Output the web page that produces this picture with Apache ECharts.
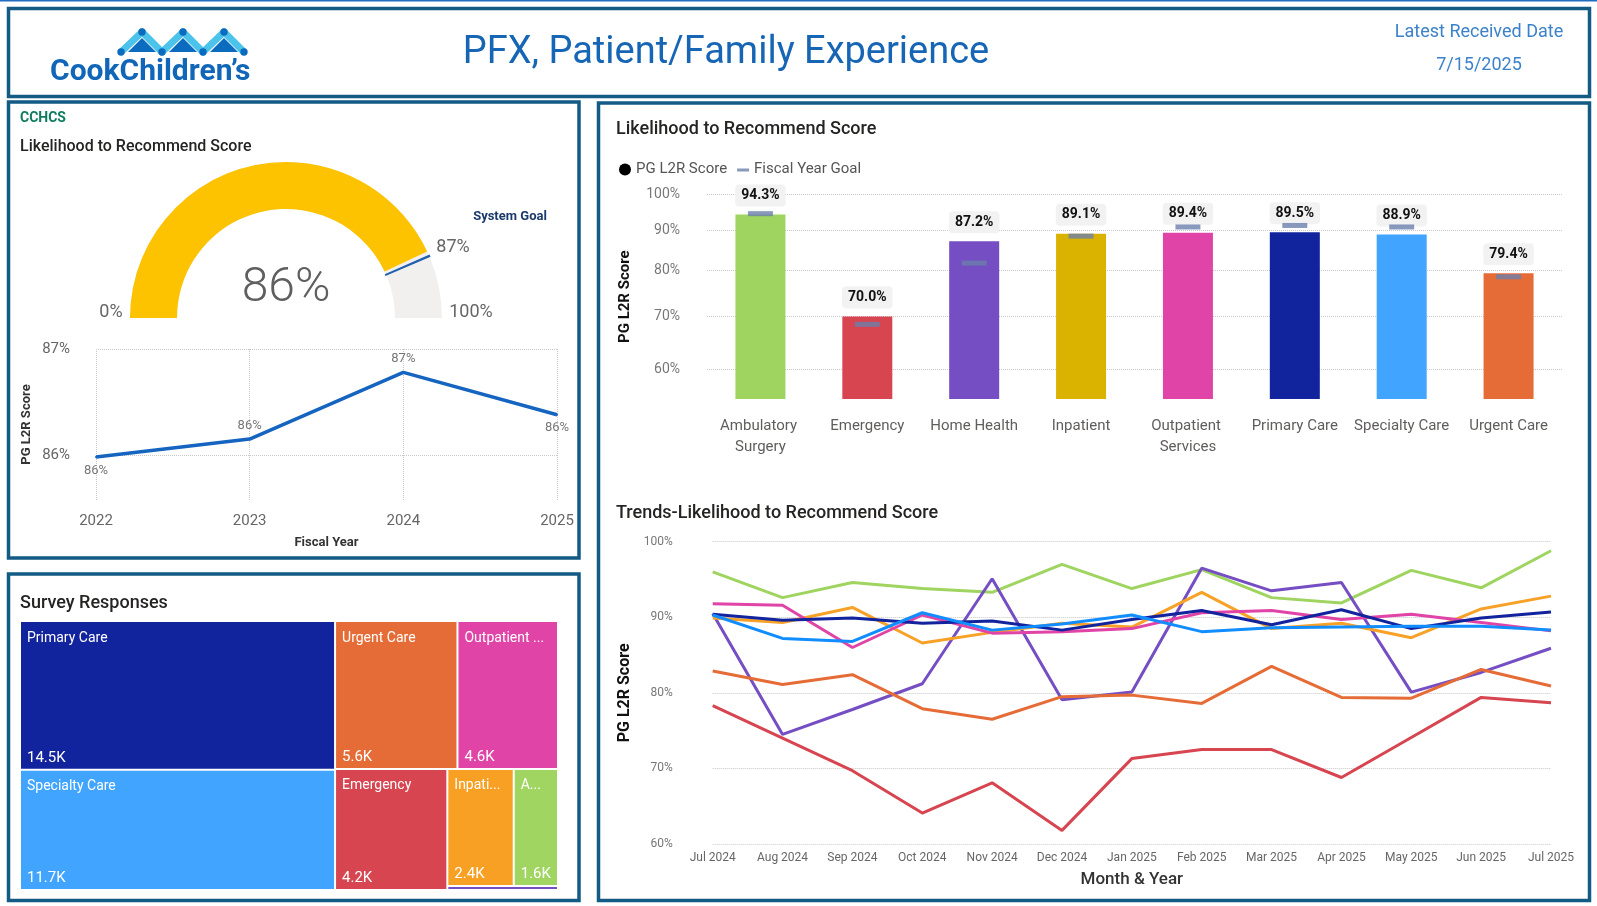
<!DOCTYPE html>
<html>
<head>
<meta charset="utf-8">
<title>PFX, Patient/Family Experience</title>
<script src="https://cdn.jsdelivr.net/npm/echarts@6/dist/echarts.min.js"></script>
<style>
  html, body { margin: 0; padding: 0; background: #fff; }
  #chart { width: 1597px; height: 906px; }
</style>
</head>
<body>
<div id="chart"></div>
<script>
// gauge
const gaugeValue = 86;
const systemGoal = 87;

// fiscal year trend (CCHCS)
const fiscalYears = ['2022', '2023', '2024', '2025'];
const fiscalScores = [85.98, 86.15, 86.78, 86.38];
const fiscalTicks = [86, 87];

// L2R by unit
const units = ['Ambulatory Surgery', 'Emergency', 'Home Health', 'Inpatient', 'Outpatient Services', 'Primary Care', 'Specialty Care', 'Urgent Care'];
const unitScores = [94.3, 70.0, 87.2, 89.1, 89.4, 89.5, 88.9, 79.4];
const unitGoals = [94.5, 68.4, 81.8, 88.5, 90.9, 91.3, 90.9, 78.6];
const unitColors = ['#9ED45F', '#D64550', '#744EC2', '#D9B300', '#E044A7', '#12239E', '#41A4FF', '#E66C37'];
const barTicks = [60, 70, 80, 90, 100];

// monthly trends
const months = ['Jul 2024', 'Aug 2024', 'Sep 2024', 'Oct 2024', 'Nov 2024', 'Dec 2024', 'Jan 2025', 'Feb 2025', 'Mar 2025', 'Apr 2025', 'May 2025', 'Jun 2025', 'Jul 2025'];
const trendAmbulatory = [96.0, 92.6, 94.6, 93.8, 93.3, 97.0, 93.8, 96.3, 92.6, 91.9, 96.2, 93.9, 98.8];
const trendEmergency = [78.3, 74.0, 69.7, 64.1, 68.1, 61.8, 71.3, 72.5, 72.5, 68.8, 74.1, 79.4, 78.7];
const trendHomeHealth = [90.5, 74.5, 77.8, 81.2, 95.1, 79.1, 80.1, 96.5, 93.5, 94.6, 80.1, 82.7, 85.9];
const trendInpatient = [89.9, 89.3, 91.3, 86.6, 88.0, 89.2, 88.7, 93.3, 88.5, 89.2, 87.3, 91.1, 92.8];
const trendOutpatient = [91.8, 91.6, 86.0, 90.3, 87.9, 88.1, 88.5, 90.6, 90.9, 89.7, 90.4, 89.3, 88.2];
const trendPrimary = [90.4, 89.6, 89.9, 89.2, 89.5, 88.3, 89.7, 90.9, 89.0, 91.0, 88.5, 89.9, 90.7];
const trendSpecialty = [90.3, 87.2, 86.8, 90.6, 88.3, 89.1, 90.3, 88.1, 88.6, 88.7, 88.8, 88.8, 88.3];
const trendUrgent = [82.9, 81.1, 82.4, 77.9, 76.5, 79.5, 79.7, 78.6, 83.5, 79.4, 79.3, 83.1, 80.9];
const trendColors = ['#9ED45F', '#D64550', '#744EC2', '#F7A127', '#E044A7', '#12239E', '#118DFF', '#E66C37'];

// survey responses
const surveyUnits = ['Primary Care', 'Specialty Care', 'Urgent Care', 'Outpatient Services', 'Emergency', 'Inpatient', 'Ambulatory Surgery', 'Home Health'];
const surveyCounts = [14500, 11700, 5600, 4600, 4200, 2400, 1600, 140];
const surveyColors = ['#12239E', '#41A5FF', '#E66C37', '#E044A7', '#D64550', '#F7A024', '#9FD560', '#744EC2'];

const FONT = 'Roboto';
const DOT = { type: 'dotted', color: '#C8C8C8', width: 1 };
const NAVY_BORDER = '#135B84';
const CLEAR = 'rgba(0,0,0,0)';

const myChart = echarts.init(document.getElementById('chart'));

const box = (x, y, w, h) => ({
  type: 'rect', silent: true,
  shape: { x: x, y: y, width: w, height: h },
  style: { fill: 'none', stroke: NAVY_BORDER, lineWidth: 3.5 }
});
const txt = (x, y, text, font, fill, align) => ({
  type: 'text', silent: true, x: x, y: y,
  style: { text: text, font: font, fill: fill, align: align || 'left', verticalAlign: 'middle' }
});

// logo pieces
const logo = [];
const peaks = [142, 183, 224];
const logoPts = [[121, 52], [142, 32], [162, 52], [183, 32], [203, 52], [224, 32], [244, 52]];
peaks.forEach(px => {
  logo.push({ type: 'polygon', silent: true, shape: { points: [[px - 14, 52], [px, 38], [px + 14, 52]] }, style: { fill: '#0B6BBE' } });
});
logo.push({ type: 'polyline', silent: true,
  shape: { points: logoPts },
  style: { stroke: '#4CC3EA', lineWidth: 7, fill: 'none', lineJoin: 'round' } });
logoPts.forEach(p => {
  logo.push({ type: 'circle', silent: true, shape: { cx: p[0], cy: p[1], r: 3.7 }, style: { fill: '#0B6BBE' } });
});

const goalIcon = 'path://M0,0 L12,0 L12,0.01 Z M0,5 L12,5 L12,8 L0,8 Z M0,12 L12,12 L12,12.01 Z';

const trendSeries = [trendAmbulatory, trendEmergency, trendHomeHealth, trendInpatient, trendOutpatient, trendPrimary, trendSpecialty, trendUrgent]
  .map((vals, i) => ({
    name: units[i], type: 'line', xAxisIndex: 2, yAxisIndex: 2,
    data: vals, symbol: 'none', smooth: false,
    lineStyle: { width: 3, color: trendColors[i] },
    itemStyle: { color: trendColors[i] }
  }));

const treeBase = {
  type: 'treemap', left: 19, top: 620, width: 540, height: 271,
  roam: false, nodeClick: false, breadcrumb: { show: false },
  animation: false
};

const option = {
  animation: false,
  textStyle: { fontFamily: FONT },
  graphic: [
    { type: 'line', silent: true, shape: { x1: 0, y1: 0.75, x2: 1597, y2: 0.75 }, style: { stroke: '#1F6CC0', lineWidth: 1.5 } },
    box(8.5, 8.5, 1581, 88),
    box(8.5, 102, 570.5, 456),
    box(8.5, 574, 570.5, 326.5),
    box(598.5, 103, 991, 797.5),
    ...logo,
    txt(50, 72, 'CookChildren’s', 'bold 30px ' + FONT, '#1166B8'),
    txt(726, 53, 'PFX, Patient/Family Experience', '38px ' + FONT, '#1766B5', 'center'),
    txt(1479, 32, 'Latest Received Date', '18px ' + FONT, '#3B82C9', 'center'),
    txt(1479, 65, '7/15/2025', '18px ' + FONT, '#3B82C9', 'center'),
    txt(20, 118, 'CCHCS', 'bold 14px ' + FONT, '#107C5F'),
    txt(20, 147, 'Likelihood to Recommend Score', '500 16px ' + FONT, '#252423'),
    txt(111, 312, '0%', '18px ' + FONT, '#666666', 'center'),
    txt(471, 312, '100%', '18px ' + FONT, '#666666', 'center'),
    txt(453, 247, systemGoal + '%', '18px ' + FONT, '#666666', 'center'),
    txt(510, 217, 'System Goal', 'bold 13px ' + FONT, '#1B3A6B', 'center'),
    txt(616, 129, 'Likelihood to Recommend Score', '500 18px ' + FONT, '#252423'),
    txt(616, 513, 'Trends-Likelihood to Recommend Score', '500 18px ' + FONT, '#252423'),
    txt(20, 603, 'Survey Responses', '500 18px ' + FONT, '#252423')
  ],
  legend: {
    left: 614, top: 157, itemWidth: 12, itemHeight: 12, itemGap: 10,
    textStyle: { fontSize: 15, color: '#555' },
    selectedMode: false,
    data: [
      { name: 'PG L2R Score', icon: 'circle', itemStyle: { color: '#000' } },
      { name: 'Fiscal Year Goal', icon: goalIcon, itemStyle: { color: '#6B80AD' } }
    ]
  },
  grid: [
    { left: 96, top: 349, width: 461, height: 151 },
    { left: 707, top: 194.3, width: 855, height: 204.7 },
    { left: 712.7, top: 541.7, width: 838.3, height: 302.3 }
  ],
  xAxis: [
    {
      gridIndex: 0, type: 'category', data: fiscalYears, boundaryGap: false,
      axisLine: { show: false }, axisTick: { show: false },
      axisLabel: { color: '#666', fontSize: 15, margin: 14 },
      splitLine: { show: true, lineStyle: DOT },
      name: 'Fiscal Year', nameLocation: 'middle', nameGap: 36,
      nameTextStyle: { fontWeight: 'bold', fontSize: 13, color: '#333' }
    },
    {
      gridIndex: 1, type: 'category', data: units,
      axisLine: { show: false }, axisTick: { show: false },
      axisLabel: { color: '#605E5C', fontSize: 15, margin: 17, interval: 0, width: 100, overflow: 'break', lineHeight: 21 }
    },
    {
      gridIndex: 2, type: 'category', data: months, boundaryGap: false,
      axisLine: { show: false }, axisTick: { show: false },
      axisLabel: { color: '#666', fontSize: 12, margin: 8, interval: 0 },
      name: 'Month & Year', nameLocation: 'middle', nameGap: 27,
      nameTextStyle: { fontWeight: 500, fontSize: 17, color: '#333' }
    }
  ],
  yAxis: [
    {
      gridIndex: 0, type: 'value', min: 85.575, max: 87,
      axisLine: { show: false },
      axisTick: { show: false, customValues: fiscalTicks },
      axisLabel: { customValues: fiscalTicks, formatter: v => Math.round(v) + '%', color: '#666', fontSize: 15, margin: 26 },
      splitLine: { show: true, lineStyle: DOT },
      name: 'PG L2R Score', nameLocation: 'middle', nameGap: 63, nameRotate: 90,
      nameTextStyle: { fontWeight: 'bold', fontSize: 13, color: '#333' }
    },
    {
      gridIndex: 1, type: 'log', logBase: 10, min: 55, max: 100,
      axisLine: { show: false },
      axisTick: { show: false, customValues: barTicks },
      axisLabel: { customValues: barTicks, formatter: v => Math.round(v) + '%', color: '#777', fontSize: 14, margin: 27 },
      splitLine: { show: true, lineStyle: DOT },
      name: 'PG L2R Score', nameLocation: 'middle', nameGap: 74, nameRotate: 90,
      nameTextStyle: { fontWeight: 'bold', fontSize: 15, color: '#111' }
    },
    {
      gridIndex: 2, type: 'value', min: 60, max: 100, interval: 10,
      axisLine: { show: false }, axisTick: { show: false },
      axisLabel: { formatter: '{value}%', color: '#777', fontSize: 12, margin: 40 },
      splitLine: { show: true, lineStyle: DOT },
      name: 'PG L2R Score', nameLocation: 'middle', nameGap: 80, nameRotate: 90,
      nameTextStyle: { fontWeight: 'bold', fontSize: 16, color: '#111' }
    }
  ],
  series: [
    {
      type: 'gauge', center: [286, 318], radius: 156, startAngle: 180, endAngle: 0, min: 0, max: 100,
      progress: { show: true, width: 47, itemStyle: { color: '#FDC300' } },
      axisLine: { lineStyle: { width: 47, color: [[1, '#F1F0EF']] } },
      pointer: { show: false }, anchor: { show: false },
      axisTick: { show: false }, splitLine: { show: false }, axisLabel: { show: false },
      title: { show: false },
      detail: { offsetCenter: [0, -29], formatter: '{value}%', fontSize: 48, fontWeight: 300, color: '#5F5F5F', fontFamily: FONT },
      data: [{ value: gaugeValue }]
    },
    {
      type: 'gauge', center: [286, 318], radius: 157, startAngle: 180, endAngle: 0, min: 0, max: 100,
      axisLine: { lineStyle: { width: 49, color: [[systemGoal / 100 - 0.0025, CLEAR], [systemGoal / 100 + 0.0025, '#1F5FAE'], [1, CLEAR]] } },
      pointer: { show: false }, anchor: { show: false },
      axisTick: { show: false }, splitLine: { show: false }, axisLabel: { show: false },
      title: { show: false }, detail: { show: false },
      data: [{ value: systemGoal }]
    },
    {
      type: 'line', xAxisIndex: 0, yAxisIndex: 0,
      data: fiscalScores.map((v, i) => ({
        value: v,
        label: { position: (i === 0 || v < fiscalScores[i - 1]) ? 'bottom' : 'top' }
      })),
      symbol: 'circle', symbolSize: 2,
      lineStyle: { width: 3.5, color: '#1565C0' }, itemStyle: { color: '#1565C0' },
      label: { show: true, formatter: p => Math.round(p.value) + '%', color: '#777', fontSize: 13, distance: 6 }
    },
    {
      name: 'PG L2R Score', type: 'bar', xAxisIndex: 1, yAxisIndex: 1, barWidth: 50,
      data: unitScores.map((v, i) => ({ value: v, itemStyle: { color: unitColors[i] } })),
      label: {
        show: true, position: 'top', distance: 8,
        formatter: p => p.value.toFixed(1) + '%',
        fontWeight: 'bold', fontSize: 14, color: '#111',
        backgroundColor: '#F2F2F2', padding: [4, 6], borderRadius: 4
      }
    },
    {
      name: 'Fiscal Year Goal', type: 'scatter', xAxisIndex: 1, yAxisIndex: 1, z: 5,
      symbol: 'rect', symbolSize: [25, 5],
      itemStyle: { color: '#6B80AD' },
      data: unitGoals
    },
    ...trendSeries,
    Object.assign({}, treeBase, {
      color: surveyColors,
      data: surveyUnits.map((n, i) => ({
        name: n, value: surveyCounts[i],
        itemStyle: { color: surveyColors[i] },
        label: { show: surveyCounts[i] >= 500 }
      })),
      itemStyle: { borderColor: '#fff', borderWidth: 1, gapWidth: 0 },
      label: { show: true, position: 'insideTopLeft', formatter: '{b}', color: '#fff', fontSize: 14, padding: [9, 6], overflow: 'truncate', ellipsis: '...' }
    }),
    Object.assign({}, treeBase, {
      silent: true,
      color: [CLEAR],
      data: surveyUnits.map((n, i) => ({
        name: n, value: surveyCounts[i],
        itemStyle: { color: CLEAR, borderColor: CLEAR },
        label: { show: surveyCounts[i] >= 500 }
      })),
      itemStyle: { color: CLEAR, borderColor: CLEAR, borderWidth: 1, gapWidth: 0 },
      label: { show: true, position: 'insideBottomLeft', formatter: p => (p.value / 1000).toFixed(1) + 'K', color: '#fff', fontSize: 15, padding: [3, 6], overflow: 'none' }
    })
  ]
};

myChart.setOption(option);
</script>
</body>
</html>
